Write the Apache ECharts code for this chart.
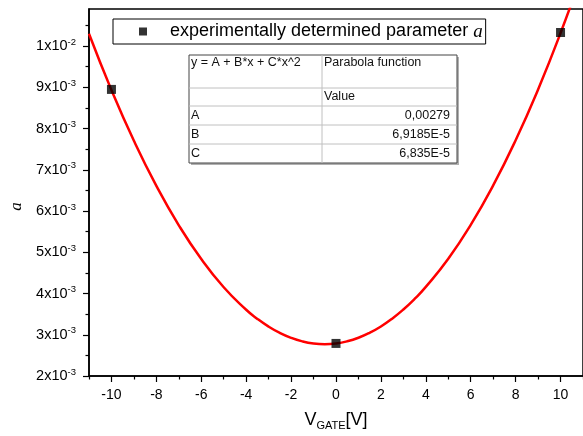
<!DOCTYPE html>
<html>
<head>
<meta charset="utf-8">
<script src="https://cdn.jsdelivr.net/npm/echarts@6/dist/echarts.min.js"></script>
<style>
  html, body { margin: 0; padding: 0; background: #fff; }
  #main { width: 583px; height: 436px; }
</style>
</head>
<body>
<div id="main"></div>
<script>
// measured points (V_GATE, a)
var gateV = [-10, 0, 10];
var aMeasured = [0.00895, 0.00279, 0.01033];

// fitted parabola
var fitX = [-11, -10, -9, -8, -7, -6, -5, -4, -3.5, -3, -2.5, -2, -1.5, -1, -0.5, 0,
  0.5, 1, 1.5, 2, 2.5, 3, 3.5, 4, 5, 6, 7, 8, 9, 10, 11];
var fitY = [0.010299, 0.008933, 0.007703, 0.006611, 0.005655, 0.004836, 0.004153, 0.003607,
  0.003385, 0.003197, 0.003044, 0.002925, 0.00284, 0.002789, 0.0027725, 0.00279,
  0.0028417, 0.002927, 0.0030476, 0.003201, 0.0033902, 0.003613, 0.0038694, 0.004161,
  0.004845, 0.005666, 0.006623, 0.007717, 0.008949, 0.010317, 0.011821];

// ticks
var xMajor = [-10, -8, -6, -4, -2, 0, 2, 4, 6, 8, 10];
var xMinor = [-11, -9, -7, -5, -3, -1, 1, 3, 5, 7, 9, 11];
var yMajor = [0.002, 0.003, 0.004, 0.005, 0.006, 0.007, 0.008, 0.009, 0.01];
var yMinor = [0.0025, 0.0035, 0.0045, 0.0055, 0.0065, 0.0075, 0.0085, 0.0095, 0.0105];

// fit result table
var tableHead = ['y = A + B*x + C*x^2', 'Parabola function'];
var paramNames = ['A', 'B', 'C'];
var paramValues = ['0,00279', '6,9185E-5', '6,835E-5'];

var font = 'Liberation Sans, Arial, sans-serif';

function sciLabel(v) {
  var e = Math.floor(Math.log10(v) + 1e-9);
  var m = Math.round(v / Math.pow(10, e));
  return m + 'x10{sup|' + e + '}';
}

var fitData = fitX.map(function (x, i) { return [x, fitY[i]]; });
var pointData = gateV.map(function (x, i) { return [x, aMeasured[i]]; });

// table graphic
var tL = 189, tT = 55, tC = 322, tR = 457;
var rows = [55, 88, 106, 125, 144, 163];
var tableEls = [];
tableEls.push({ type: 'rect', shape: { x: tL + 2, y: tT + 2, width: tR - tL, height: rows[5] - tT },
  style: { fill: '#b0b0b0' } });
tableEls.push({ type: 'rect', shape: { x: tL, y: tT, width: tR - tL, height: rows[5] - tT },
  style: { fill: '#fff', stroke: '#444', lineWidth: 1 } });
for (var r = 1; r < 5; r++) {
  tableEls.push({ type: 'line', shape: { x1: tL, y1: rows[r], x2: tR, y2: rows[r] },
    style: { stroke: '#c0c0c0', lineWidth: 1 } });
}
tableEls.push({ type: 'line', shape: { x1: tC, y1: tT, x2: tC, y2: rows[5] },
  style: { stroke: '#c0c0c0', lineWidth: 1 } });
var tStyle = function (txt, x, y, align) {
  return { type: 'text', x: x, y: y,
    style: { text: txt, fill: '#111', font: '12.5px ' + font, textAlign: align || 'left', textVerticalAlign: 'middle' } };
};
tableEls.push(tStyle(tableHead[0], 191, 63));
tableEls.push(tStyle(tableHead[1], 324, 63));
tableEls.push(tStyle('Value', 324, 97));
paramNames.forEach(function (n, i) {
  var cy = (rows[i + 2] + rows[i + 3]) / 2;
  tableEls.push(tStyle(n, 191, cy));
  tableEls.push(tStyle(paramValues[i], 450, cy, 'right'));
});

var chart = echarts.init(document.getElementById('main'));
var option = {
  backgroundColor: '#fff',
  animation: false,
  grid: {
    left: 86, right: -2, top: 9, bottom: 59,
    show: true, borderColor: '#000', borderWidth: 1.5
  },
  legend: {
    left: 113, top: 19,
    data: ['experimentally determined parameter a'],
    icon: 'rect', itemWidth: 8, itemHeight: 8,
    borderColor: '#000', borderWidth: 1,
    padding: [3, 3, 3, 26],
    formatter: function () {
      return '{g|}{t|experimentally determined parameter }{a|a}';
    },
    textStyle: {
      rich: {
        g: { width: 18 },
        t: { fontSize: 18, fontFamily: font, color: '#000' },
        a: { fontSize: 19, fontFamily: 'Liberation Serif, Times New Roman, serif', fontStyle: 'italic', color: '#000' }
      }
    }
  },
  xAxis: [{
    type: 'value', min: -11, max: 11,
    name: 'V{sub|GATE}[V]', nameLocation: 'middle', nameGap: 34,
    nameTextStyle: {
      fontSize: 18, fontFamily: font, color: '#000',
      rich: { sub: { fontSize: 11, fontFamily: font, color: '#000', verticalAlign: 'bottom', padding: [10, 0, 0, 0] } }
    },
    axisLine: { onZero: false, lineStyle: { color: '#000', width: 1.5 } },
    axisTick: { show: true, customValues: xMajor, length: 6, lineStyle: { color: '#000', width: 1.2 } },
    axisLabel: { customValues: xMajor, color: '#000', fontSize: 14, fontFamily: font, margin: 12 },
    splitLine: { show: false }
  }, {
    type: 'value', min: -11, max: 11, position: 'bottom', gridIndex: 0,
    axisLine: { show: false, onZero: false },
    axisTick: { show: true, customValues: xMinor, length: 3.5, lineStyle: { color: '#000', width: 1.2 } },
    axisLabel: { show: false },
    splitLine: { show: false }
  }],
  yAxis: [{
    type: 'value', min: 0.002, max: 0.0109,
    name: 'a', nameLocation: 'middle', nameGap: 64, nameRotate: 90,
    nameTextStyle: {
      fontSize: 17, fontFamily: 'Liberation Serif, Times New Roman, serif', fontStyle: 'italic', color: '#000',
      padding: [0, 28, 0, 0]
    },
    axisLine: { onZero: false, lineStyle: { color: '#000', width: 1.5 } },
    axisTick: { show: true, customValues: yMajor, length: 6, lineStyle: { color: '#000', width: 1.2 } },
    axisLabel: {
      customValues: yMajor, color: '#000', fontSize: 14.5, fontFamily: font, margin: 13,
      formatter: sciLabel,
      rich: { sup: { fontSize: 9.5, fontFamily: font, color: '#000', verticalAlign: 'top', padding: [0, 0, 8, 0] } }
    },
    splitLine: { show: false }
  }, {
    type: 'value', min: 0.002, max: 0.0109, position: 'left', gridIndex: 0,
    axisLine: { show: false, onZero: false },
    axisTick: { show: true, customValues: yMinor, length: 3.5, lineStyle: { color: '#000', width: 1.2 } },
    axisLabel: { show: false },
    splitLine: { show: false }
  }],
  series: [{
    name: 'Parabola fit',
    type: 'line',
    data: fitData,
    smooth: true,
    showSymbol: false,
    clip: true,
    lineStyle: { color: '#ff0000', width: 2.5 },
    itemStyle: { color: '#ff0000' },
    z: 2
  }, {
    name: 'experimentally determined parameter a',
    type: 'scatter',
    data: pointData,
    symbol: 'rect',
    symbolSize: 9,
    itemStyle: { color: '#000' },
    z: 3
  }],
  graphic: [{ type: 'group', z: 10, children: tableEls }]
};
chart.setOption(option);
</script>
</body>
</html>
